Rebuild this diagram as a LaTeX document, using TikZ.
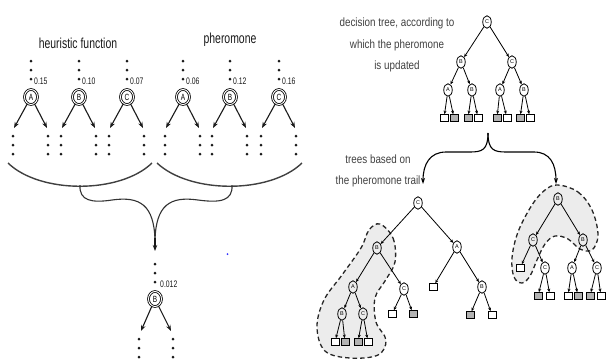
\documentclass[tikz,border=0pt]{standalone}
\usepackage{fontspec}
\setmainfont{Liberation Sans}
\newfontfamily\narrowA[FakeStretch=0.72]{Liberation Sans}
\newfontfamily\narrowB[FakeStretch=0.82]{Liberation Sans}
\usetikzlibrary{arrows.meta,shapes.geometric}
\begin{document}
\begin{tikzpicture}[x=1pt,y=-1pt,
  dotc/.style={fill=black!90},
  dnode/.style={draw,ellipse,double,double distance=1pt,line width=0.8pt,minimum width=13pt,minimum height=15pt,inner sep=0pt,font=\narrowA\fontsize{9}{9}\selectfont},
  vlabel/.style={anchor=west,inner sep=0pt,font=\narrowA\fontsize{9.5}{9.5}\selectfont,text=black!90},
  bigarrow/.style={-{Stealth[length=6pt,width=4.5pt]},line width=1.1pt,black!90},
  title/.style={inner sep=0pt,font=\narrowA\fontsize{14.5}{14.5}\selectfont,text=black!90},
  note/.style={inner sep=0pt,align=center,font=\narrowB\fontsize{12}{21.5}\selectfont,text=black!75},
  arcline/.style={line width=1.4pt,black!75},
  tnode/.style={draw,ellipse,minimum width=8.5pt,minimum height=12.5pt,inner sep=0pt,line width=0.8pt,font=\fontsize{5.5}{5.5}\selectfont},
  wbox/.style={draw,minimum width=8pt,minimum height=7pt,inner sep=0pt,line width=0.7pt,fill=white},
  gbox/.style={wbox,fill=gray!60},
  tedge/.style={-{Stealth[length=3.5pt,width=3pt]},line width=0.8pt},
  hilite/.style={fill=gray!15,draw=black!85,line width=1.3pt,dash pattern=on 4.5pt off 3pt},
  brace/.style={line width=1.1pt,-{Stealth[length=6pt,width=4pt]}}
]
\useasboundingbox (0,0) rectangle (606,360);

% ---------- left part ----------
\node[title] (th) at (78,43) {heuristic function};
\node[title] (tp) at (230,40) {pheromone};

\foreach \x/\l/\v/\n in {31/A/0.15/a1, 79/B/0.10/b1, 127/C/0.07/c1, 183/A/0.06/a2, 230/B/0.12/b2, 279/C/0.16/c2} {
  \foreach \yy in {61,70,79} \fill[dotc] (\x,\yy) circle (1.5pt);
  \node[dnode] (n\n) at (\x,97) {\l};
  \node[vlabel] (v\n) at (\x+3,81) {\v};
  \coordinate (ll\n) at (\x-17,128);
  \coordinate (lr\n) at (\x+16,128);
  \draw[bigarrow] (n\n) -- (ll\n);
  \draw[bigarrow] (n\n) -- (lr\n);
  \foreach \yy in {136,145,154} {
    \fill[dotc] (\x-18,\yy) circle (1.5pt);
    \fill[dotc] (\x+17,\yy) circle (1.5pt);
  }
}

\coordinate (al1) at (8,163);
\coordinate (al2) at (152,163);
\coordinate (ar1) at (157,163);
\coordinate (ar2) at (302,163);
\coordinate (lb) at (80,185);
\coordinate (rb) at (232,185);
\coordinate (mt) at (155,251);
\draw[arcline] (al1) .. controls (40,194) and (120,194) .. (al2);
\draw[arcline] (ar1) .. controls (190,194) and (270,194) .. (ar2);
\draw[line width=1.1pt,black!80] (lb) .. controls (79,201) and (92,203) .. (112,200) .. controls (140,196) and (154,205) .. (155,240);
\draw[line width=1.1pt,black!80] (rb) .. controls (233,201) and (220,203) .. (198,200) .. controls (170,196) and (156,205) .. (155,240);
\coordinate (ms) at (155,238);
\draw[bigarrow] (ms) -- (mt);

\node[circle,fill=blue!80,inner sep=0pt,minimum size=2pt] (bluedot) at (227.5,254) {};

\foreach \yy in {264,273,282} \fill[dotc] (155,\yy) circle (1.5pt);
\node[vlabel] (v0) at (160,284) {0.012};
\node[dnode] (n0) at (155,299) {B};
\coordinate (l0) at (141,331);
\coordinate (r0c) at (171,331);
\draw[bigarrow] (n0) -- (l0);
\draw[bigarrow] (n0) -- (r0c);
\foreach \yy in {339,348,357} {
  \fill[dotc] (139,\yy) circle (1.5pt);
  \fill[dotc] (173,\yy) circle (1.5pt);
}

% ---------- top right decision tree ----------
\node[note] (tx1) at (397,45) {decision tree, according to\\which the pheromone\\is updated};
\node[tnode] (p0) at (487,22) {C};
\node[tnode] (p1) at (461,62) {B};
\node[tnode] (p2) at (512,62) {C};
\node[tnode] (p11) at (448,90) {A};
\node[tnode] (p12) at (472,90) {B};
\node[tnode] (p21) at (500,90) {A};
\node[tnode] (p22) at (524,90) {B};
\node[wbox] (q1) at (444,118) {};
\node[gbox] (q2) at (454,118) {};
\node[gbox] (q3) at (468,118) {};
\node[wbox] (q4) at (478,118) {};
\node[gbox] (q5) at (497,118) {};
\node[wbox] (q6) at (507,118) {};
\node[gbox] (q7) at (520,118) {};
\node[wbox] (q8) at (530,118) {};
\foreach \a/\b in {p0/p1,p0/p2,p1/p11,p1/p12,p2/p21,p2/p22,p11/q1,p11/q2,p12/q3,p12/q4,p21/q5,p21/q6,p22/q7,p22/q8}
  \draw[tedge] (\a) -- (\b);

% brace
\coordinate (bt) at (488,133);
\coordinate (bl) at (423,184);
\coordinate (br) at (556,184);
\draw[brace] (bt) .. controls (488,150) and (482,152) .. (470,152) -- (446,152) .. controls (430,152) and (423,164) .. (bl);
\draw[brace] (bt) .. controls (488,150) and (494,152) .. (506,152) -- (534,152) .. controls (550,152) and (556,164) .. (br);

\node[note] (tx2) at (378,171) {trees based on\\the pheromone trail};

% ---------- bottom left tree ----------
\draw[hilite] plot[smooth cycle,tension=0.6] coordinates {(380,224) (393,238) (395,262) (385,281) (375,298) (376,322) (386,340) (378,355) (350,358) (325,351) (317,327) (324,300) (342,275) (361,248) (369,230)};
\node[tnode] (s0) at (418,203) {C};
\node[tnode] (s1) at (377,248) {B};
\node[tnode] (s2) at (457,247) {A};
\node[tnode] (s11) at (353,287) {A};
\node[tnode] (s12) at (404,289) {C};
\node[wbox] (s21) at (433,287) {};
\node[tnode] (s22) at (482,287) {B};
\node[tnode] (s111) at (342,314) {B};
\node[tnode] (s112) at (363,314) {C};
\node[wbox] (s121) at (392,314) {};
\node[gbox] (s122) at (413,314) {};
\node[gbox] (s221) at (470,315) {};
\node[wbox] (s222) at (492,315) {};
\node[wbox] (u1) at (335,342) {};
\node[gbox] (u2) at (345,342) {};
\node[gbox] (u3) at (358,342) {};
\node[wbox] (u4) at (368,342) {};
\foreach \a/\b in {s0/s1,s0/s2,s1/s11,s1/s12,s2/s21,s2/s22,s11/s111,s11/s112,s12/s121,s12/s122,s22/s221,s22/s222,s111/u1,s111/u2,s112/u3,s112/u4}
  \draw[tedge] (\a) -- (\b);

% ---------- bottom right tree ----------
\draw[hilite] plot[smooth cycle,tension=0.6] coordinates {(558,185) (578,192) (592,210) (598,235) (592,250) (580,249) (568,239) (555,236) (545,244) (537,260) (530,276) (522,283) (514,277) (512,258) (518,232) (532,205) (545,190)};
\node[tnode] (w0) at (558,199) {B};
\node[tnode] (w1) at (533,240) {C};
\node[tnode] (w2) at (583,240) {B};
\node[wbox] (w11) at (520,268) {};
\node[tnode] (w12) at (545,268) {C};
\node[tnode] (w21) at (572,268) {A};
\node[tnode] (w22) at (597,268) {C};
\node[gbox] (x1) at (538,296) {};
\node[wbox] (x2) at (550,296) {};
\node[wbox] (x3) at (568,296) {};
\node[gbox] (x4) at (578,296) {};
\node[gbox] (x5) at (590,296) {};
\node[wbox] (x6) at (601,296) {};
\foreach \a/\b in {w0/w1,w0/w2,w1/w11,w1/w12,w2/w21,w2/w22,w12/x1,w12/x2,w21/x3,w21/x4,w22/x5,w22/x6}
  \draw[tedge] (\a) -- (\b);
\end{tikzpicture}
\end{document}
